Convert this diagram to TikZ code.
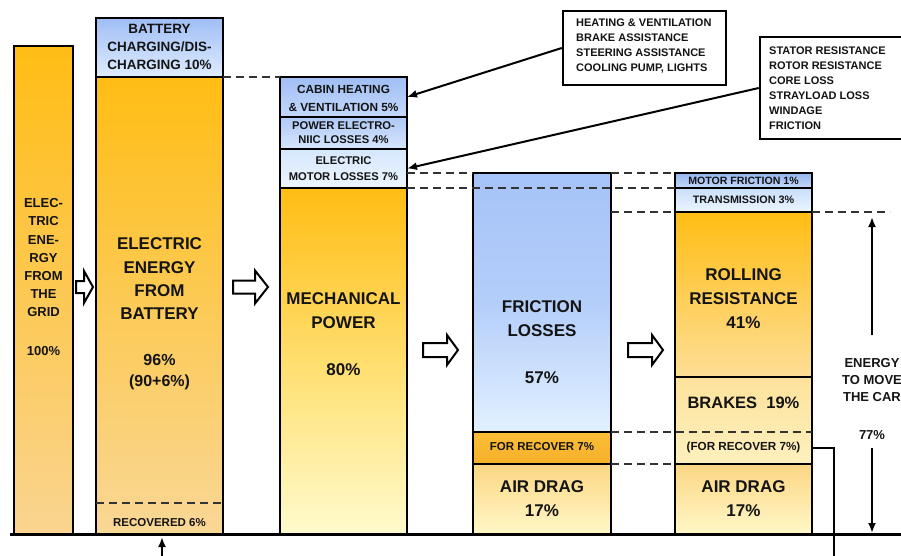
\documentclass[tikz,border=0pt]{standalone}
\usepackage{fontspec}
\setmainfont{Liberation Sans}
\usetikzlibrary{arrows.meta}
\definecolor{tx}{RGB}{20,20,20}
\definecolor{orTop}{RGB}{255,189,20}
\definecolor{gridBot}{RGB}{250,212,145}
\definecolor{batBot}{RGB}{249,215,150}
\definecolor{mechMid}{RGB}{255,222,110}
\definecolor{mechBot}{RGB}{255,251,205}
\definecolor{rollBot}{RGB}{253,222,150}
\definecolor{brTop}{RGB}{253,226,155}
\definecolor{brBot}{RGB}{254,240,190}
\definecolor{adTop}{RGB}{252,214,132}
\definecolor{adBot}{RGB}{255,248,200}
\definecolor{recTop}{RGB}{251,190,55}
\definecolor{recBot}{RGB}{246,176,42}
\definecolor{bluTop}{RGB}{160,190,245}
\definecolor{bluBot}{RGB}{222,236,255}
\definecolor{cabBot}{RGB}{196,216,250}
\definecolor{powTop}{RGB}{175,200,246}
\definecolor{powBot}{RGB}{214,230,252}
\definecolor{motTop}{RGB}{214,231,252}
\definecolor{motBot}{RGB}{236,245,255}
\definecolor{fricTop}{RGB}{166,195,248}
\definecolor{fricMid}{RGB}{180,206,250}
\definecolor{fricBot}{RGB}{226,241,255}
\definecolor{mfTop}{RGB}{150,182,240}
\definecolor{mfBot}{RGB}{196,216,250}
\definecolor{trTop}{RGB}{200,222,250}
\definecolor{trBot}{RGB}{236,245,255}
\newcommand\segm[7]{\node[seg,top color=#6,bottom color=#7,minimum width={(#4-#2)*1pt},minimum height={(#5-#3)*1pt}] (#1) at ({(#2+#4)/2},{(#3+#5)/2}) {};}
\newcommand\fs[2]{\fontsize{#1}{#2}\selectfont\bfseries}
\newcommand\blockarr[6]{\draw[blkarrow] (#1,#4-#5) -- (#3,#4-#5) -- (#3,#4-#6) -- (#2,#4) -- (#3,#4+#6) -- (#3,#4+#5) -- (#1,#4+#5) -- cycle;}
\begin{document}
\begin{tikzpicture}[x=1pt,y=-1pt,
  seg/.style={draw=black,line width=2.2pt,inner sep=0pt,outer sep=0pt},
  lbl/.style={align=center,inner sep=0pt,text=tx},
  dsh/.style={draw=black!80,line width=1.8pt,dash pattern=on 8pt off 5pt},
  blkarrow/.style={draw=black,fill=white,line width=2pt,line join=miter},
  callbox/.style={draw=black,fill=white,line width=2.5pt,inner sep=0pt},
  conn/.style={draw=black,line width=2pt,-{Latex[length=10pt,width=8pt]}},
  plain/.style={draw=black,line width=2pt},
]
\useasboundingbox (0,0) rectangle (901,556);
% bars
\segm{grid}{14}{46}{73}{534}{orTop}{gridBot}
\segm{b2top}{96}{18}{223}{77}{bluTop}{bluBot}
\segm{b2main}{96}{77}{223}{534}{orTop}{batBot}
\segm{cabin}{280}{77}{407}{117}{bluTop}{cabBot}
\segm{power}{280}{117}{407}{149}{powTop}{powBot}
\segm{motor}{280}{149}{407}{188}{motTop}{motBot}
\node[seg,top color=orTop,bottom color=mechBot,middle color=mechMid,minimum width=127pt,minimum height=346pt] (mech) at (343.5,361) {};
\node[seg,top color=fricTop,bottom color=fricBot,middle color=fricMid,minimum width=138pt,minimum height=259pt] (fric) at (542,302.5) {};
\segm{rec}{473}{432}{611}{464}{recTop}{recBot}
\segm{ad4}{473}{464}{611}{534}{adTop}{adBot}
\segm{mf}{675}{173}{812}{188}{mfTop}{mfBot}
\segm{trans}{675}{188}{812}{212}{trTop}{trBot}
\segm{roll}{675}{212}{812}{377}{orTop}{rollBot}
\segm{brakes}{675}{377}{812}{464}{brTop}{brBot}
\segm{ad5}{675}{464}{812}{534}{adTop}{adBot}
% labels
\node[lbl,font=\fs{13}{18.2}] (tGrid) at (43.5,277) {ELEC-\\TRIC\\ENE-\\RGY\\FROM\\THE\\GRID\\[20pt]100\%};
\node[lbl,font=\fs{13.5}{18}] (tBc) at (159.5,47) {BATTERY\\CHARGING/DIS-\\CHARGING 10\%};
\node[lbl,font=\fs{17}{23.3}] (tBat) at (159.5,279) {ELECTRIC\\ENERGY\\FROM\\BATTERY};
\node[lbl,font=\fs{16}{21}] (tBatP) at (159.5,372) {96\%\\(90+6\%)};
\node[lbl,font=\fs{11.5}{14}] (tRecov) at (159.5,522.5) {RECOVERED 6\%};
\node[lbl,font=\fs{11.8}{18}] (tCab) at (343.5,98) {CABIN HEATING\\\& VENTILATION 5\%};
\node[lbl,font=\fs{11.2}{14}] (tPow) at (343.5,133) {POWER ELECTRO-\\NIIC LOSSES 4\%};
\node[lbl,font=\fs{11.2}{16}] (tMot) at (343.5,169) {ELECTRIC\\MOTOR LOSSES 7\%};
\node[lbl,font=\fs{17}{24}] (tMech) at (343.5,310.5) {MECHANICAL\\POWER};
\node[lbl,font=\fs{17}{24}] (tMechP) at (343.5,370) {80\%};
\node[lbl,font=\fs{17}{24}] (tFric) at (542,318.5) {FRICTION\\LOSSES};
\node[lbl,font=\fs{17}{24}] (tFricP) at (542,378) {57\%};
\node[lbl,font=\fs{11.5}{14}] (tRec) at (542,447) {FOR RECOVER 7\%};
\node[lbl,font=\fs{17}{24}] (tAd4) at (542,499) {AIR DRAG\\17\%};
\node[lbl,font=\fs{10.6}{12}] (tMf) at (743.5,181) {MOTOR FRICTION 1\%};
\node[lbl,font=\fs{10.8}{12}] (tTr) at (743.5,200) {TRANSMISSION 3\%};
\node[lbl,font=\fs{17}{24}] (tRoll) at (743.5,299) {ROLLING\\RESISTANCE\\41\%};
\node[lbl,font=\fs{16.5}{24}] (tBr) at (743.5,403) {BRAKES\ \ 19\%};
\node[lbl,font=\fs{11.7}{14}] (tBrR) at (743.5,447) {(FOR RECOVER 7\%)};
\node[lbl,font=\fs{17}{24}] (tAd5) at (743.5,499) {AIR DRAG\\17\%};
% callouts
\node[callbox,minimum width=163pt,minimum height=74pt] (c1) at (644.5,48) {};
\node[lbl,align=left,anchor=west,font=\fs{11}{15}] (c1t) at (576,46.5) {HEATING \& VENTILATION\\BRAKE ASSISTANCE\\STEERING ASSISTANCE\\COOLING PUMP, LIGHTS};
\node[callbox,minimum width=145pt,minimum height=102pt] (c2) at (832.5,88) {};
\node[lbl,align=left,anchor=west,font=\fs{11}{15}] (c2t) at (769,88.5) {STATOR RESISTANCE\\ROTOR RESISTANCE\\CORE LOSS\\STRAYLOAD LOSS\\WINDAGE\\FRICTION};
\draw[conn] (c1.west) -- (cabin.east);
\draw[conn] (c2.west) -- (motor.east);
% dashed guide lines
\coordinate (r1) at (96,503);
\coordinate (r2) at (225,503);
\draw[dsh] (r1) -- (r2);
\draw[dsh] (b2top.south east) -- (cabin.north west);
\draw[dsh] (motor.east |- fric.north) -- (fric.north west);
\draw[dsh] (motor.south east) -- (mf.south west);
\draw[dsh] (fric.north east) -- (mf.north west);
\draw[dsh] (fric.east |- trans.south) -- (trans.south west);
\coordinate (dR) at (890,212);
\draw[dsh] (trans.south east) -- (dR);
\draw[dsh] (rec.north east) -- (brakes.east |- rec.north);
\draw[dsh] (rec.south east) -- (ad5.north west);
% block arrows
\blockarr{76}{93}{84}{287}{6}{16}
\blockarr{233}{268}{255}{287}{6.5}{16.5}
\blockarr{423}{458}{447}{350}{7}{15}
\blockarr{628}{663}{652}{350}{7}{15}
% energy to move the car
\coordinate (eUp1) at (872,335);
\coordinate (eUp2) at (872,217);
\coordinate (eDn1) at (872,448);
\coordinate (eDn2) at (872,533);
\draw[conn] (eUp1) -- (eUp2);
\draw[conn] (eDn1) -- (eDn2);
\node[lbl,font=\fs{13}{17}] (tEn) at (872,380) {ENERGY\\TO MOVE\\THE CAR};
\node[lbl,font=\fs{13}{17}] (tEnP) at (872,435) {77\%};
% recovery loop
\coordinate (rc1) at (834,448);
\coordinate (rc2) at (834,556);
\draw[plain] (brakes.east |- rc1) -- (rc1) -- (rc2);
\coordinate (ra1) at (162,556);
\coordinate (ra2) at (162,537);
\draw[conn] (ra1) -- (ra2);
% baseline
\coordinate (bl1) at (10,534);
\coordinate (bl2) at (901,534);
\draw[draw=black,line width=3pt] (bl1) -- (bl2);
\end{tikzpicture}
\end{document}
